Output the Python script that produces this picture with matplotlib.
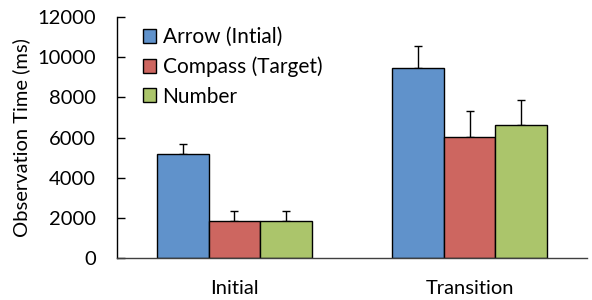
import matplotlib
matplotlib.use("Agg")
import matplotlib.pyplot as plt
import numpy as np

plt.rcParams['font.family'] = ['Lato', 'DejaVu Sans']

categories = ["Initial", "Transition"]
series_names = ["Arrow (Intial)", "Compass (Target)", "Number"]
arrow = [5160, 9480]
compass = [1850, 6040]
number = [1830, 6610]
arrow_err = [500, 1090]
compass_err = [500, 1280]
number_err = [490, 1270]
yticks = [0, 2000, 4000, 6000, 8000, 10000, 12000]

colors = ["#6092CB", "#CD6660", "#ABC56B"]

fig = plt.figure(figsize=(5.92, 3.0), dpi=100)
ax = fig.add_axes([0.1976, 0.14, 0.794, 0.803])

x = np.arange(len(categories))
w = 0.22
vals = [arrow, compass, number]
errs = [arrow_err, compass_err, number_err]
for i, (v, e, c, n) in enumerate(zip(vals, errs, colors, series_names)):
    ax.bar(x + (i - 1) * w, v, width=w, color=c, edgecolor='black', linewidth=1.0,
           label=n, zorder=2)
    ax.errorbar(x + (i - 1) * w, v, yerr=[np.zeros(len(e)), e], fmt='none',
                ecolor='black', elinewidth=1.0, capsize=3, capthick=1.0, zorder=1)

ax.set_xlim(-0.5, 1.5)
ax.set_ylim(0, 12000)
ax.set_yticks(yticks)
ax.set_xticks(x)
ax.set_xticklabels(categories)
ax.tick_params(axis='x', length=0, pad=16, labelsize=14.5)
ax.tick_params(axis='y', length=6, width=1, direction='in', labelsize=14.5, pad=15)
ax.spines['top'].set_visible(False)
ax.spines['right'].set_visible(False)
ax.spines['left'].set_linewidth(1)
ax.spines['bottom'].set_linewidth(1)
ax.spines['bottom'].set_color('#404040')
ax.set_ylabel("Observation Time (ms)", fontsize=14.5, labelpad=5)

leg = ax.legend(loc='upper left', bbox_to_anchor=(0.055, 0.958), frameon=False,
                fontsize=15, handlelength=0.65, handleheight=0.65, handletextpad=0.3,
                labelspacing=0.45, borderaxespad=0, borderpad=0)

fig.savefig("out.png", dpi=100)
